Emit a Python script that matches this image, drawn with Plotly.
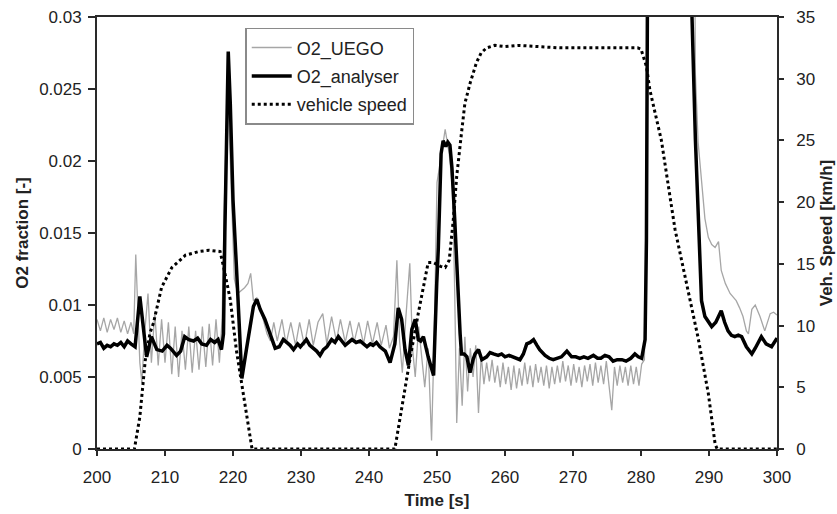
import plotly.graph_objects as go

# ---------------- data ----------------
uego_t = [
    200.0, 200.5, 201.0, 201.5, 202.0, 202.5, 203.0, 203.5, 204.0, 204.5,
    205.0, 205.4, 205.7, 206.0, 206.3, 206.6, 207.0, 207.5, 208.0, 208.5,
    209.0, 209.5, 210.0, 210.5, 211.0, 211.5, 212.0, 212.5, 213.0, 213.5,
    214.0, 214.5, 215.0, 215.5, 216.0, 216.5, 217.0, 217.5, 218.0, 218.4,
    218.7, 219.2, 219.7, 220.2, 220.7, 221.2, 221.7, 222.2, 222.6, 223.0,
    223.5, 224.0, 224.5, 225.0, 225.5, 226.0, 226.5, 227.2, 227.8, 228.5,
    229.2, 229.8, 230.5, 231.2, 231.8, 232.5, 233.2, 233.8, 234.5, 235.2,
    235.8, 236.5, 237.2, 237.8, 238.5, 239.2, 239.8, 240.5, 241.2, 241.8,
    242.5, 243.0, 243.6, 244.1, 244.5, 244.9, 245.4, 246.0, 246.4, 246.8,
    247.3, 247.8, 248.2, 248.7, 249.2, 249.6, 250.0, 250.5, 251.2, 251.8,
    252.3, 252.6, 252.9, 253.3, 253.7, 254.1, 254.5, 254.9, 255.3, 255.7,
    256.1, 256.5, 256.9, 257.3, 257.7, 258.1, 258.5, 258.9, 259.3, 259.7,
    260.1, 260.5, 260.9, 261.3, 261.7, 262.1, 262.5, 262.9, 263.3, 263.7,
    264.1, 264.5, 264.9, 265.3, 265.7, 266.1, 266.5, 266.9, 267.3, 267.7,
    268.1, 268.5, 268.9, 269.3, 269.7, 270.1, 270.5, 270.9, 271.3, 271.7,
    272.1, 272.5, 272.9, 273.3, 273.7, 274.1, 274.5, 274.9, 275.3, 275.7,
    276.1, 276.5, 276.9, 277.3, 277.7, 278.1, 278.5, 278.9, 279.3, 279.7,
    280.1, 280.5, 280.8, 281.0, 287.6, 288.0, 288.4, 288.9, 289.4, 289.9,
    290.4, 290.9, 291.4, 291.8, 292.4, 293.1, 294.0, 294.5, 295.0, 295.5,
    295.8, 296.3, 296.8, 297.5, 298.2, 299.0, 299.5, 300.0,
]
uego_o2 = [
    .0090, .0082, .0091, .0081, .0090, .0083, .0091, .0081, .0089, .0080,
    .0088, .0080, .0135, .0100, .0060, .0046, .0080, .0108, .0060, .0095,
    .0058, .0090, .0060, .0088, .0052, .0085, .0050, .0082, .0055, .0085,
    .0053, .0082, .0055, .0085, .0057, .0087, .0058, .0090, .0060, .0090,
    .0165, .0255, .0180, .0118, .0108, .0110, .0112, .0115, .0122, .0103,
    .0105, .0098, .0088, .0080, .0075, .0088, .0075, .0090, .0073, .0088,
    .0072, .0088, .0072, .0090, .0072, .0088, .0094, .0073, .0092, .0075,
    .0090, .0074, .0089, .0074, .0088, .0073, .0089, .0073, .0088, .0072,
    .0086, .0070, .0078, .0131, .0075, .0053, .0090, .0129, .0070, .0050,
    .0085, .0060, .0043, .0070, .0006, .0080, .0185, .0200, .0222, .0205,
    .0180, .0110, .0018, .0070, .0030, .0078, .0040, .0070, .0050, .0072,
    .0025, .0065, .0045, .0060, .0047, .0062, .0046, .0058, .0043, .0060,
    .0045, .0057, .0041, .0058, .0042, .0056, .0044, .0060, .0045, .0058,
    .0043, .0059, .0046, .0057, .0044, .0058, .0042, .0057, .0045, .0058,
    .0046, .0061, .0047, .0058, .0044, .0059, .0046, .0057, .0043, .0058,
    .0047, .0059, .0044, .0060, .0046, .0058, .0045, .0061, .0043, .0027,
    .0057, .0044, .0058, .0046, .0057, .0044, .0058, .0045, .0057, .0044,
    .0059, .0062, .0200, .0600, .0600, .0260, .0213, .0184, .0160, .0147,
    .0142, .0140, .0144, .0124, .0115, .0108, .0103, .0098, .0092, .0082,
    .0080, .0097, .0100, .0092, .0082, .0094, .0095, .0093,
]

analyser_t = [
    200.0, 200.5, 201.0, 201.5, 202.0, 202.5, 203.0, 203.5, 204.0, 204.5,
    205.0, 205.6, 206.3, 207.3, 208.0, 208.8, 209.6, 210.3, 210.8, 211.7,
    212.3, 212.9, 213.5, 214.2, 214.8, 215.4, 216.1, 216.7, 217.3, 217.8,
    218.3, 218.6, 218.8, 219.1, 219.3, 219.6, 220.0, 220.5, 221.0, 221.3,
    222.0, 222.5, 223.0, 223.5, 224.0, 224.7, 225.5, 226.2, 226.8, 227.4,
    227.9, 228.4, 228.9, 229.5, 229.9, 230.4, 230.8, 231.3, 231.8, 232.3,
    232.8, 233.3, 233.8, 234.5, 235.0, 235.5, 236.0, 236.5, 237.0, 237.5,
    238.1, 238.7, 239.2, 239.7, 240.2, 240.6, 241.1, 241.6, 242.4, 243.1,
    243.8, 244.3, 244.8, 245.3, 245.8, 246.3, 246.8, 247.25, 247.6, 248.0,
    248.7, 249.5, 249.96, 250.2, 250.6, 250.9, 251.3, 251.6, 251.9, 252.2,
    252.6, 252.9, 253.4, 253.6, 254.0, 254.4, 254.85, 255.3, 255.6, 256.1,
    256.6, 257.3, 257.8, 258.3, 259.0, 259.5, 260.0, 260.6, 261.2, 261.7,
    262.2, 262.7, 263.2, 263.7, 264.2, 264.7, 265.1, 265.9, 266.5, 267.1,
    267.6, 268.3, 269.1, 269.8, 270.4, 271.0, 271.6, 272.2, 273.0, 273.6,
    274.1, 274.7, 275.3, 275.9, 276.5, 277.2, 277.8, 278.5, 279.1, 279.6,
    280.1, 280.6, 280.8, 281.0, 281.2, 287.2, 287.5, 288.0, 288.4, 288.9,
    289.4, 289.9, 290.4, 291.0, 291.8, 292.3, 292.8, 293.3, 293.8, 294.3,
    294.8, 295.5, 296.3, 296.8, 297.7, 298.4, 299.2, 300.0,
]
analyser_o2 = [
    .0073, .0074, .0070, .0072, .0071, .0073, .0072, .0074, .0071, .0075,
    .0073, .0071, .0106, .0064, .0078, .0069, .0068, .0072, .0070, .0065,
    .0068, .0078, .0076, .0075, .0077, .0073, .0072, .0076, .0074, .0076,
    .0069, .0080, .0150, .0220, .0276, .0240, .0173, .0127, .0080, .0049,
    .0070, .0085, .0099, .0104, .0097, .0090, .0080, .0070, .0071, .0076,
    .0074, .0072, .0069, .0073, .0071, .0074, .0076, .0072, .0070, .0068,
    .0065, .0069, .0071, .0076, .0074, .0078, .0075, .0072, .0074, .0076,
    .0074, .0075, .0073, .0071, .0073, .0072, .0074, .0071, .0068, .0060,
    .0073, .0098, .0090, .0069, .0058, .0083, .0090, .0076, .0075, .0078,
    .0064, .0051, .0115, .0140, .0205, .0214, .0210, .0213, .0211, .0195,
    .0160, .0127, .0080, .0066, .0066, .0064, .0053, .0062, .0066, .0069,
    .0062, .0064, .0067, .0066, .0065, .0066, .0064, .0065, .0064, .0063,
    .0062, .0066, .0073, .0074, .0076, .0072, .0069, .0065, .0063, .0062,
    .0063, .0064, .0068, .0064, .0064, .0063, .0064, .0063, .0065, .0063,
    .0063, .0065, .0064, .0061, .0062, .0062, .0061, .0063, .0066, .0064,
    .0063, .0076, .0145, .0350, .0600, .0600, .0300, .0215, .0161, .0103,
    .0092, .0088, .0085, .0088, .0096, .0088, .0082, .0079, .0078, .0079,
    .0078, .0071, .0066, .0070, .0078, .0073, .0071, .0077,
]

speed_t = [
    200.0, 205.5, 206.3, 207.1, 207.8, 208.3, 209.5, 211.0, 213.0, 215.0,
    216.5, 218.1, 218.6, 219.6, 220.5, 221.3, 222.0, 222.8, 243.8, 245.0,
    246.0, 247.25, 248.2, 248.7, 249.5, 250.5, 251.2, 251.8, 252.4, 252.9,
    253.6, 254.1, 254.9, 255.8, 256.5, 257.3, 258.5, 260.0, 262.0, 265.0,
    268.0, 272.0, 276.0, 279.5, 280.0, 280.3, 280.8, 281.3, 283.0, 285.0,
    286.5, 288.4, 289.9, 290.9, 291.2, 300.0,
]
speed_kmh = [
    0.0, 0.0, 2.6, 7.2, 9.4, 10.2, 13.1, 14.7, 15.7, 16.0,
    16.1, 16.0, 14.8, 12.1, 8.0, 5.3, 2.6, 0.0, 0.0, 4.0,
    7.2, 11.0, 13.9, 15.1, 15.1, 14.8, 14.7, 15.3, 18.6, 22.1,
    25.6, 28.0, 29.7, 31.3, 32.1, 32.5, 32.7, 32.6, 32.7, 32.6,
    32.5, 32.5, 32.5, 32.5, 32.4, 31.8, 31.0, 29.1, 25.0, 17.8,
    13.9, 9.0, 4.5, 0.4, 0.0, 0.0,
]

x_ticks = [200, 210, 220, 230, 240, 250, 260, 270, 280, 290, 300]

FONT = "Liberation Sans, Arial, sans-serif"
AXC = "#2a2a2a"
TXT = "#222"

fig = go.Figure()
fig.add_trace(go.Scatter(
    x=uego_t, y=uego_o2, mode="lines", name="O2_UEGO", legendgroup="a",
    line=dict(color="#a6a6a6", width=1.3),
))
fig.add_trace(go.Scatter(
    x=analyser_t, y=analyser_o2, mode="lines", name="O2_analyser", legendgroup="b",
    line=dict(color="#000000", width=3.5),
))
fig.add_trace(go.Scatter(
    x=speed_t, y=speed_kmh, mode="lines", name="vehicle speed", legendgroup="c",
    yaxis="y2", line=dict(color="#000000", width=3, dash="3px,3px"),
))

fig.update_layout(
    width=837, height=514,
    margin=dict(l=97, r=60, t=17, b=65, autoexpand=False),
    paper_bgcolor="white", plot_bgcolor="white",
    font=dict(family=FONT, size=17, color=TXT),
    showlegend=True,
    legend=dict(
        x=0.218, y=0.975, xanchor="left", yanchor="top",
        bgcolor="white", bordercolor="#8a8a8a", borderwidth=1.5,
        font=dict(family=FONT, size=18, color=TXT),
        itemwidth=40, tracegroupgap=2,
    ),
    xaxis=dict(
        range=[200, 300], tickvals=x_ticks, ticks="outside", ticklen=5,
        tickwidth=1.5, tickcolor=AXC, ticklabelstandoff=7, automargin=False,
        showline=True, linecolor=AXC, linewidth=1.8, mirror=True,
        showgrid=False, zeroline=False,
        tickfont=dict(family=FONT, size=17, color=TXT),
        title=dict(text="<b>Time [s]</b>", font=dict(family=FONT, size=17), standoff=8),
    ),
    yaxis=dict(
        range=[0, 0.03], dtick=0.005, ticks="outside", ticklen=7,
        tickwidth=1.5, tickcolor=AXC, ticklabelstandoff=3, automargin=False,
        showline=True, linecolor=AXC, linewidth=1.8,
        showgrid=False, zeroline=False,
        tickfont=dict(family=FONT, size=17, color=TXT),
        title=dict(text="<b>O2 fraction [-]</b>", font=dict(family=FONT, size=17), standoff=6),
    ),
    yaxis2=dict(
        range=[0, 35], dtick=5, overlaying="y", side="right",
        ticks="outside", ticklen=5, tickwidth=1.5, tickcolor=AXC,
        ticklabelstandoff=9, automargin=False,
        showline=True, linecolor=AXC, linewidth=1.8,
        showgrid=False, zeroline=False,
        tickfont=dict(family=FONT, size=17, color=TXT),
        title=dict(text="<b>Veh. Speed [km/h]</b>", font=dict(family=FONT, size=17), standoff=6),
    ),
    yaxis3=dict(
        range=[0, 35], dtick=5, overlaying="y", side="right",
        ticks="inside", ticklen=5, tickwidth=1.5, tickcolor=AXC, automargin=False,
        showticklabels=False, showline=False, showgrid=False, zeroline=False,
    ),
)

fig.write_html("out.html")
